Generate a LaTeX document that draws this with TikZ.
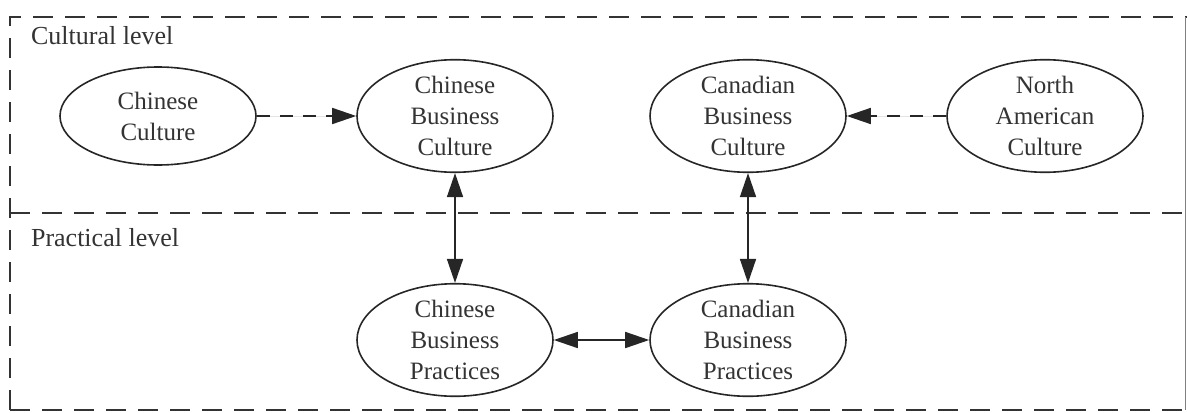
\documentclass[tikz,border=0pt]{standalone}
\usepackage{fontspec}
\setmainfont{Liberation Serif}
\usetikzlibrary{shapes.geometric,arrows.meta,positioning}

\begin{document}
\begin{tikzpicture}[
    x=0.5pt, y=-0.5pt,
    concept/.style={ellipse, draw=black!85, line width=0.8pt, minimum width=98pt, minimum height=49pt, inner sep=0pt, align=center, font=\fontsize{12.5}{15.5}\selectfont, text=black!80},
    levellabel/.style={anchor=west, font=\fontsize{13}{15}\selectfont, text=black!80},
    frame/.style={draw=black!80, line width=0.9pt, dash pattern=on 10pt off 6pt},
    arrow/.style={-{Triangle[length=12pt,width=8pt]}, line width=0.8pt, draw=black!85, fill=black!85},
    biarrow/.style={{Triangle[length=12pt,width=8pt]}-{Triangle[length=12pt,width=8pt]}, line width=0.8pt, draw=black!85, fill=black!85},
    influence/.style={arrow, dash pattern=on 6.5pt off 5pt}
]
\useasboundingbox (0,0) rectangle (1187,412);

% levels
\draw[frame] (10,410) -- (10,17) -- (1187,17);
\draw[frame] (10,410) -- (1187,410);
\draw[frame] (10,213) -- (1187,213);
\draw[black!50, line width=0.4pt] (1185,17) -- (1185,410);
\node[levellabel] (cultural) at (24,36) {Cultural level};
\node[levellabel] (practical) at (24,238) {Practical level};

% cultural level
\node[concept] (cnculture) at (158,116) {Chinese\\Culture};
\node[concept] (cnbizculture) at (455,116) {Chinese\\Business\\Culture};
\node[concept] (cabizculture) at (748,116) {Canadian\\Business\\Culture};
\node[concept] (naculture) at (1045,116) {North\\American\\Culture};

% practical level
\node[concept] (cnpractice) at (455,340) {Chinese\\Business\\Practices};
\node[concept] (capractice) at (748,340) {Canadian\\Business\\Practices};

\draw[influence] (cnculture) -- (cnbizculture);
\draw[influence] (naculture) -- (cabizculture);
\draw[biarrow] (cnbizculture) -- (cnpractice);
\draw[biarrow] (cabizculture) -- (capractice);
\draw[biarrow] (cnpractice) -- (capractice);

\end{tikzpicture}
\end{document}
